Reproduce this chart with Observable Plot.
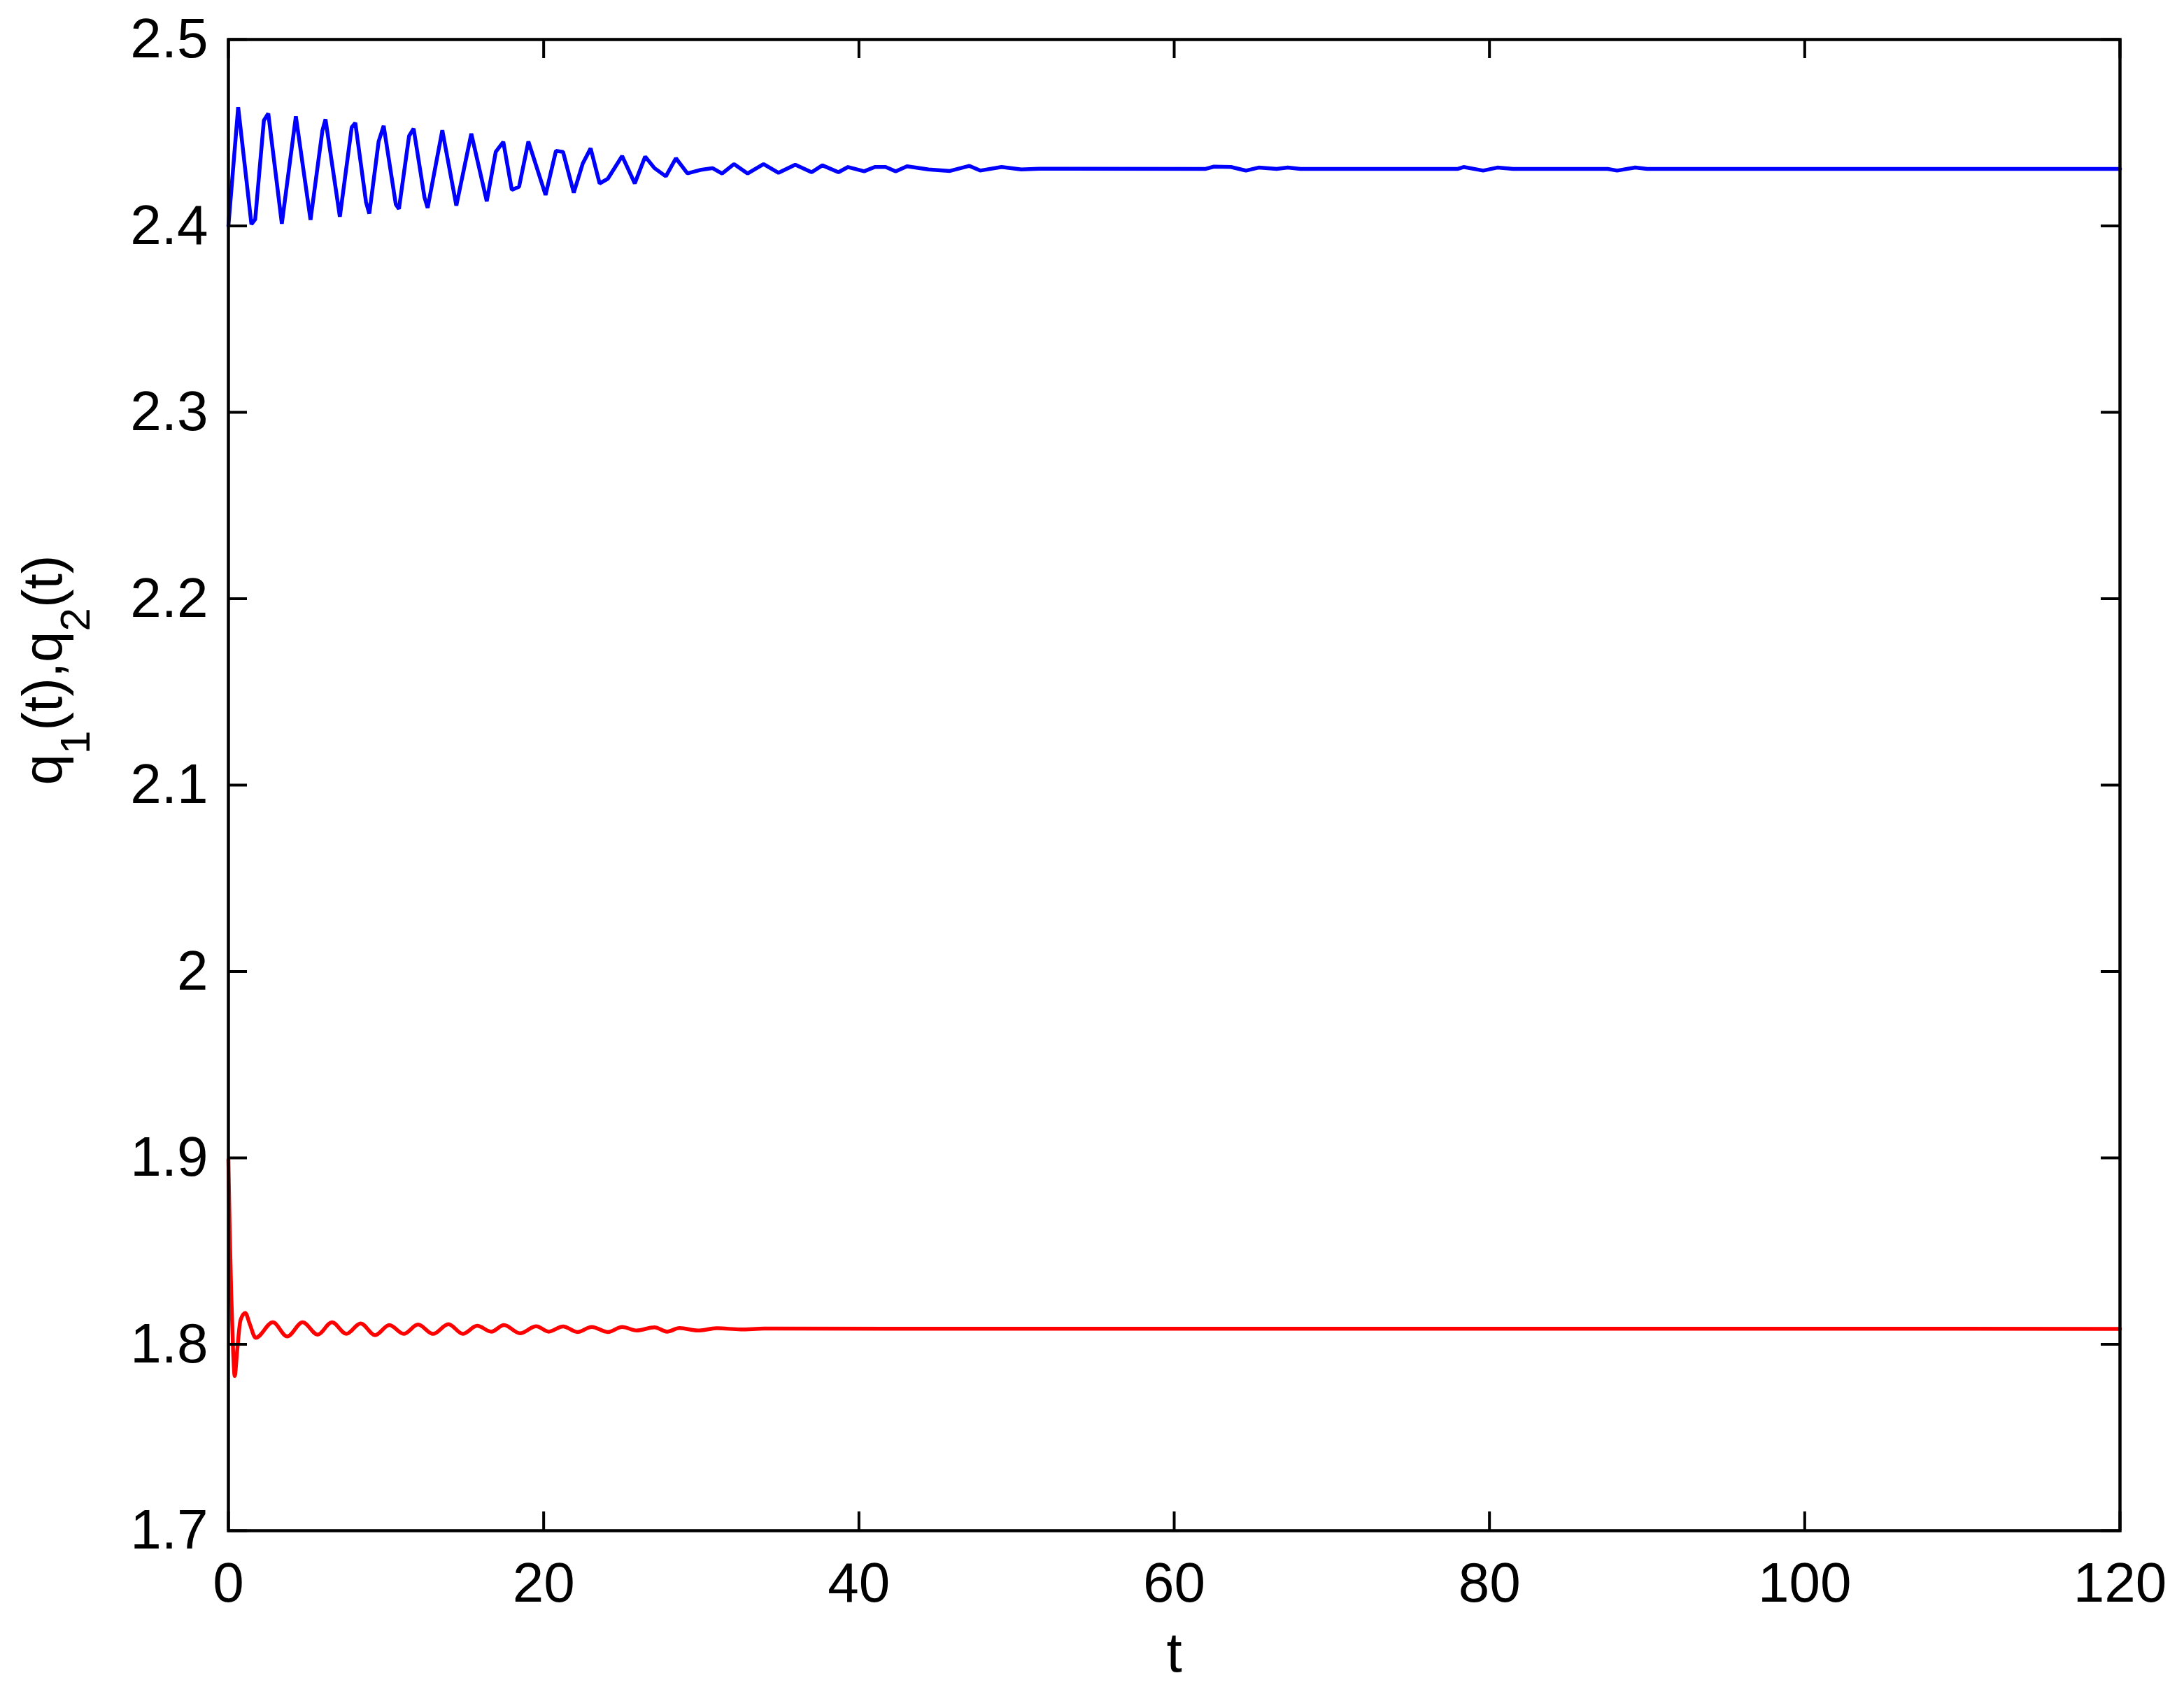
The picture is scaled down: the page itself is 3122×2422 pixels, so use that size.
<!DOCTYPE html>
<html>
<head>
<meta charset="utf-8">
<script src="https://cdn.jsdelivr.net/npm/d3@7"></script>
<script src="https://cdn.jsdelivr.net/npm/@observablehq/plot@0.6"></script>
<style>
  html, body { margin: 0; padding: 0; background: #ffffff; }
</style>
</head>
<body>
<div id="chart"></div>
<script>
// ---- axis ticks and labels ----
const xTicks = [0, 20, 40, 60, 80, 100, 120];
const yTicks = [1.7, 1.8, 1.9, 2.0, 2.1, 2.2, 2.3, 2.4, 2.5];
const xLabel = "t";
const yLabel = "q1(t),q2(t)";

// ---- upper (blue) series ----
const blueT = [0, 0.62, 1.46, 1.70, 2.25, 2.53, 3.39, 4.28, 5.21, 5.96, 6.16, 7.07, 7.82, 8.05, 8.73, 8.94,
  9.53, 9.85, 10.62, 10.82, 11.46, 11.75, 12.44, 12.64, 13.57, 14.46, 15.41, 16.39, 16.96, 17.44, 17.98, 18.44,
  19.03, 20.12, 20.78, 21.23, 21.91, 22.48, 22.98, 23.55, 24.07, 24.98, 25.78, 26.44, 27.03, 27.75, 28.39, 29.12,
  29.92, 30.71, 31.32, 32.07, 32.93, 33.95, 34.90, 35.96, 37.00, 37.68, 38.70, 39.31, 40.33, 41.01, 41.69, 42.33,
  43.05, 44.41, 45.77, 47.01, 47.69, 49.05, 50.30, 51.43, 62.00, 62.52, 63.60, 64.56, 65.36, 66.50, 67.20, 68.00,
  78.00, 78.36, 79.60, 80.50, 81.50, 87.50, 88.10, 89.25, 90.00, 120];
const blueQ = [2.4000, 2.4637, 2.4009, 2.4035, 2.4566, 2.4603, 2.4012, 2.4588, 2.4032, 2.4510, 2.4572, 2.4049, 2.4528, 2.4553, 2.4128, 2.4066,
  2.4453, 2.4537, 2.4116, 2.4091, 2.4482, 2.4522, 2.4153, 2.4097, 2.4513, 2.4109, 2.4495, 2.4132, 2.4397, 2.4451, 2.4193, 2.4210,
  2.4453, 2.4166, 2.4403, 2.4397, 2.4178, 2.4335, 2.4416, 2.4228, 2.4253, 2.4375, 2.4228, 2.4372, 2.4310, 2.4266, 2.4363, 2.4282,
  2.4300, 2.4310, 2.4281, 2.4332, 2.4281, 2.4332, 2.4285, 2.4328, 2.4288, 2.4325, 2.4288, 2.4316, 2.4293, 2.4316, 2.4316, 2.4293,
  2.4320, 2.4303, 2.4295, 2.4322, 2.4297, 2.4316, 2.4303, 2.4307, 2.4306, 2.4318, 2.4316, 2.4297, 2.4313, 2.4306, 2.4313, 2.4306,
  2.4306, 2.4316, 2.4297, 2.4313, 2.4306, 2.4306, 2.4297, 2.4313, 2.4306, 2.4306];

// ---- lower (red) series ----
const redT = [0, 0.08, 0.18, 0.30, 0.40, 0.55, 0.77, 1.07, 1.35, 1.73, 2.82, 3.73, 4.71, 5.66, 6.57, 7.48,
  8.39, 9.30, 10.21, 11.12, 12.03, 12.98, 13.96, 14.87, 15.78, 16.68, 17.48, 18.50, 19.53, 20.32, 21.23, 22.14,
  23.05, 24.07, 24.98, 25.89, 27.03, 27.82, 28.62, 29.76, 31.00, 32.50, 34.00, 120];
const redQ = [1.899, 1.862, 1.827, 1.796, 1.783, 1.796, 1.813, 1.8168, 1.8110, 1.8035, 1.8118, 1.8042, 1.8118, 1.8052, 1.8118, 1.8056,
  1.8112, 1.8049, 1.8103, 1.8056, 1.8106, 1.8056, 1.8108, 1.8056, 1.8099, 1.8068, 1.8103, 1.8059, 1.8097, 1.8068, 1.8096, 1.8066,
  1.8093, 1.8066, 1.8093, 1.8074, 1.8091, 1.8068, 1.8087, 1.8074, 1.8086, 1.8080, 1.8084, 1.8083];

const toRows = (ts, vs) => ts.map((t, i) => ({t, v: vs[i]}));
const blueRows = toRows(blueT, blueQ);
const redRows = toRows(redT, redQ);

const W = 3122, H = 2422;
const mL = 326, mR = 92, mT = 56, mB = 234;
const plotW = W - mL - mR, plotH = H - mT - mB;
const tickLen = 27;
const font = "'Liberation Sans', Arial, Helvetica, sans-serif";

const chart = Plot.plot({
  width: W, height: H,
  marginLeft: mL, marginRight: mR, marginTop: mT, marginBottom: mB,
  x: {domain: [0, 120]},
  y: {domain: [1.7, 2.5]},
  style: {fontFamily: font, fontSize: "80px", background: "#ffffff", color: "#000000", overflow: "visible"},
  marks: [
    Plot.line(blueRows, {x: "t", y: "v", stroke: "#0000ff", strokeWidth: 5.5, strokeLinejoin: "miter"}),
    Plot.line(redRows, {x: "t", y: "v", stroke: "#ff0000", strokeWidth: 5.5, curve: "monotone-x"}),
    Plot.frame({stroke: "#000000", strokeWidth: 4.5}),
    Plot.tickX(xTicks, {x: d => d, insetTop: plotH - tickLen, stroke: "#000000", strokeWidth: 4}),
    Plot.tickX(xTicks, {x: d => d, insetBottom: plotH - tickLen, stroke: "#000000", strokeWidth: 4}),
    Plot.tickY(yTicks, {y: d => d, insetRight: plotW - tickLen, stroke: "#000000", strokeWidth: 4}),
    Plot.tickY(yTicks, {y: d => d, insetLeft: plotW - tickLen, stroke: "#000000", strokeWidth: 4}),
    Plot.axisX({ticks: xTicks, tickSize: 0, tickPadding: 45, label: null, fontSize: 80, tickFormat: d => String(d)}),
    Plot.axisY({ticks: yTicks, tickSize: 0, tickPadding: 29, label: null, fontSize: 80, tickFormat: d => String(+d.toFixed(1))}),
    Plot.text([xLabel], {frameAnchor: "bottom", lineAnchor: "middle", text: d => d, dy: 176, fontSize: 80, fill: "#000000"}),
    Plot.text([yLabel], {frameAnchor: "left", lineAnchor: "middle", text: d => d, rotate: -90, dx: -264, fontSize: 80, fill: "#000000"})
  ]
});

document.getElementById("chart").appendChild(chart);

// subscripts in the y label
d3.select(chart).selectAll("text").filter(function () { return this.textContent === yLabel; }).each(function () {
  const t = d3.select(this);
  t.text(null);
  const subSize = 60, shift = 40;
  t.append("tspan").text("q");
  t.append("tspan").attr("font-size", subSize).attr("dy", shift).text("1");
  t.append("tspan").attr("dy", -shift).text("(t),q");
  t.append("tspan").attr("font-size", subSize).attr("dy", shift).text("2");
  t.append("tspan").attr("dy", -shift).text("(t)");
});
</script>
</body>
</html>
